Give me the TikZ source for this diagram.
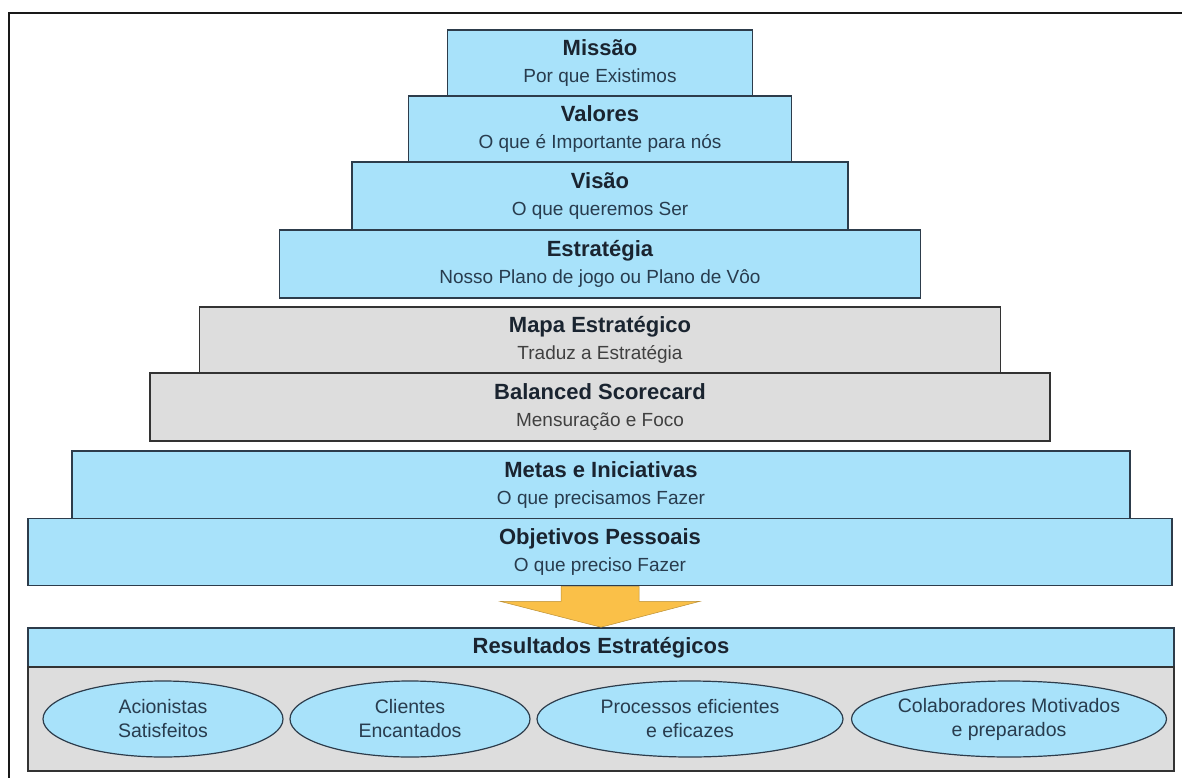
\documentclass[tikz,border=0pt]{standalone}
\usepackage{fontspec}
\setmainfont{Liberation Sans}
\usetikzlibrary{shapes.geometric,calc}

\definecolor{tierblue}{RGB}{168,226,250}
\definecolor{tiergray}{RGB}{221,221,221}
\definecolor{edgeblue}{RGB}{45,60,75}
\definecolor{textnavy}{RGB}{26,36,48}
\definecolor{subnavy}{RGB}{40,60,78}
\definecolor{arrowgold}{RGB}{250,192,72}

\newcommand{\tiertitle}[1]{{\fontsize{22}{27}\selectfont\bfseries\color{textnavy}#1}}

\begin{document}
\begin{tikzpicture}[
    x=1pt, y=-1pt,
    box/.style={rectangle, draw=edgeblue, line width=1.6pt, align=center, inner sep=0pt, font=\fontsize{19}{27}\selectfont, text=subnavy},
    tier/.style={box, fill=tierblue},
    graytier/.style={box, fill=tiergray, draw=black!80, text=black!75},
    goal/.style={ellipse, draw=edgeblue, line width=1.2pt, fill=tierblue, align=center, inner sep=0pt, minimum height=76pt, font=\fontsize{19.5}{24}\selectfont, text=subnavy}
]
\useasboundingbox (0,0) rectangle (1182,778);

% Outer frame
\draw[line width=2.5pt, black!90] (9,790) -- (9,13) -- (1195,13);

% Pyramid (top)
\node[tier, minimum width=305pt, minimum height=66pt] (mission) at (600,63) {\tiertitle{Missão}\\Por que Existimos};
\node[tier, minimum width=383pt, minimum height=66pt] (values) at (600,129) {\tiertitle{Valores}\\O que é Importante para nós};
\node[tier, minimum width=496pt, minimum height=68pt] (vision) at (600,196) {\tiertitle{Visão}\\O que queremos Ser};
\node[tier, minimum width=641pt, minimum height=68pt] (strategy) at (600,264) {\tiertitle{Estratégia}\\Nosso Plano de jogo ou Plano de Vôo};

% Map and scorecard
\node[graytier, minimum width=801pt, minimum height=66pt] (stratmap) at (600,340) {\tiertitle{Mapa Estratégico}\\Traduz a Estratégia};
\node[graytier, minimum width=900pt, minimum height=68pt] (scorecard) at (600,407) {\tiertitle{Balanced Scorecard}\\Mensuração e Foco};

% Pyramid (base)
\node[tier, minimum width=1058pt, minimum height=68pt] (targets) at (601,485) {\tiertitle{Metas e Iniciativas}\\O que precisamos Fazer};
\node[tier, minimum width=1144pt, minimum height=67pt] (personal) at (600,552) {\tiertitle{Objetivos Pessoais}\\O que preciso Fazer};

% Results
\node[tier, minimum width=1146pt, minimum height=39pt] (header) at (601,647.5) {\tiertitle{Resultados Estratégicos}};
\node[graytier, minimum width=1146pt, minimum height=104pt] (outcomes) at (601,719) {};

\node[goal, minimum width=240pt] (holders) at (163,719) {Acionistas\\Satisfeitos};
\node[goal, minimum width=240pt] (clients) at (410,719) {Clientes\\Encantados};
\node[goal, minimum width=306pt] (processes) at (690,719) {Processos eficientes\\e eficazes};
\node[goal, minimum width=315pt] (staff) at (1009,719) {Colaboradores Motivados\\e preparados};

% Block arrow
\filldraw[fill=arrowgold, draw=arrowgold!75!black, line width=0.5pt]
    ($(personal.south)+(-39,0)$) -- ($(personal.south)+(39,0)$)
    -- ($(personal.south)+(39,15)$) -- ($(personal.south)+(100,15)$)
    -- (header.north) -- ($(personal.south)+(-100,15)$)
    -- ($(personal.south)+(-39,15)$) -- cycle;

\end{tikzpicture}
\end{document}
